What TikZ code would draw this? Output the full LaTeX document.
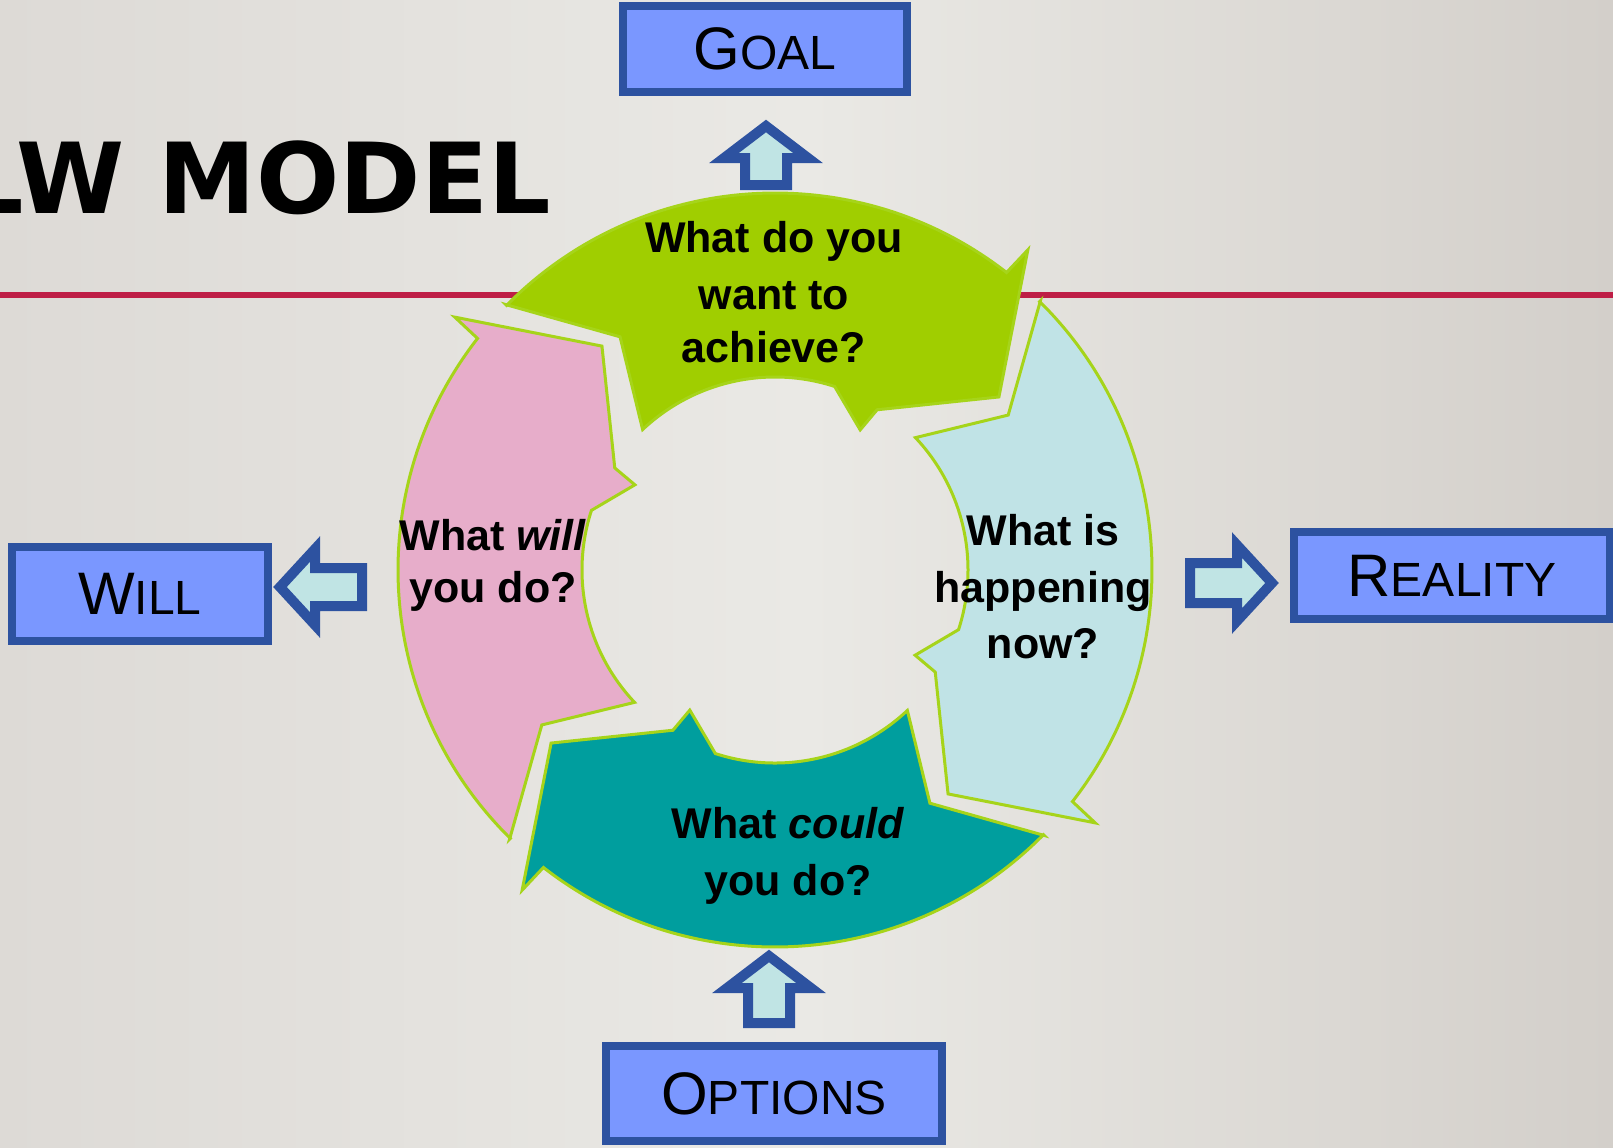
\documentclass[tikz,border=0pt]{standalone}
\usepackage{fontspec}
\setmainfont{Liberation Sans}
\newfontfamily\titlefont{DejaVu Sans}
\definecolor{bgL}{RGB}{221,218,214}
\definecolor{bgM}{RGB}{234,233,229}
\definecolor{bgR}{RGB}{211,207,202}
\definecolor{redline}{RGB}{190,30,70}
\definecolor{cgreen}{RGB}{160,206,0}
\definecolor{cpink}{RGB}{231,173,202}
\definecolor{cblue}{RGB}{192,227,230}
\definecolor{cteal}{RGB}{0,158,158}
\definecolor{ringline}{RGB}{166,212,26}
\definecolor{boxfill}{RGB}{122,151,255}
\definecolor{boxborder}{RGB}{45,82,160}
\definecolor{arrfill}{RGB}{192,228,228}
\newcommand\sclab[2]{{\fontsize{30}{30}\selectfont #1}{\fontsize{24}{24}\selectfont #2}}
\tikzset{
  ringarrow/.style={draw=ringline, line width=1.5pt, line join=miter},
  blockarrow/.style={fill=arrfill, draw=boxborder, line width=5pt, line join=miter},
  labelbox/.style={rectangle, draw=boxborder, fill=boxfill, line width=4pt, inner sep=0pt, anchor=center},
  qtext/.style={anchor=base, inner sep=0pt, font=\bfseries\fontsize{21.5}{26}\selectfont},
}
\begin{document}
\begin{tikzpicture}[x=0.5pt,y=-0.5pt]
\useasboundingbox (0,0) rectangle (1613,1147);
\clip (0,0) rectangle (1613,1147);
\shade[left color=bgL, right color=bgR, middle color=bgM] (0,0) rectangle (1613,1147);

% title
\node[anchor=base east, inner sep=0pt, font=\titlefont\bfseries\fontsize{49}{49}\selectfont] (title) at (551,213) {LW MODEL};

% red rule
\draw[redline, line width=3pt] (0,295) -- (1613,295);

% cycle ring
\begin{scope}[shift={(775,570)}, y=0.5pt]
  \foreach \rot/\col in {0/cgreen, 90/cpink, -90/cblue, 180/cteal} {
    \begin{scope}[rotate=\rot]
      \filldraw[ringarrow, fill=\col] (135.4:378) -- (123.6:280) -- (133.3:193)
        arc[start angle=133.3, end angle=72, radius=193]
        -- (58.7:164) -- (57.5:190) -- (37.7:283) -- (51.7:408) -- (52.1:377)
        arc[start angle=52.1, end angle=135.4, radius=377] -- cycle;
    \end{scope}
  }
\end{scope}

% texts in the ring
\node[qtext] (g1) at (774,252) {What do you};
\node[qtext] (g2) at (774,309) {want to};
\node[qtext] (g3) at (774,362) {achieve?};
\node[qtext] (b1) at (1043,545) {What is};
\node[qtext] (b2) at (1043,602) {happening};
\node[qtext] (b3) at (1043,658) {now?};
\node[qtext] (t1) at (788,838) {What \textit{could}};
\node[qtext] (t2) at (788,895) {you do?};
\node[qtext] (p1) at (493,550) {What \textit{will}};
\node[qtext] (p2) at (493,602) {you do?};

% boxes
\node[labelbox, minimum width=142pt, minimum height=43pt] (goal) at (765,49) {\sclab{G}{OAL}};
\node[labelbox, minimum width=128pt, minimum height=47pt] (will) at (140,594) {\sclab{W}{ILL}};
\node[labelbox, minimum width=158pt, minimum height=43.5pt] (reality) at (1452,575.5) {\sclab{R}{EALITY}};
\node[labelbox, minimum width=168pt, minimum height=47.5pt] (options) at (774,1093.5) {\sclab{O}{PTIONS}};

% block arrows
\filldraw[blockarrow] (745,185) -- (745,158) -- (724,158) -- (766,126) -- (808,158) -- (787,158) -- (787,185) -- cycle;
\filldraw[blockarrow] (748,1023) -- (748,988) -- (727,988) -- (769,956) -- (811,988) -- (790,988) -- (790,1023) -- cycle;
\filldraw[blockarrow] (362,568) -- (315,568) -- (315,549) -- (280,587) -- (315,625) -- (315,606) -- (362,606) -- cycle;
\filldraw[blockarrow] (1190,563) -- (1237,563) -- (1237,545) -- (1272,583) -- (1237,621) -- (1237,603) -- (1190,603) -- cycle;
\end{tikzpicture}
\end{document}
